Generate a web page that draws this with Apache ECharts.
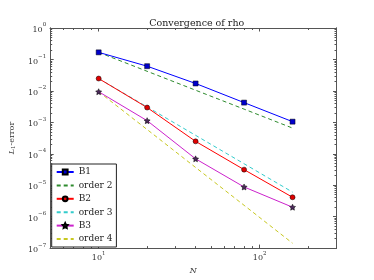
<!DOCTYPE html>
<html><head><meta charset="utf-8">
<script src="https://cdn.jsdelivr.net/npm/echarts@6/dist/echarts.min.js"></script>
<style>html,body{margin:0;padding:0;background:#fff}#c{width:374px;height:280px}</style>
</head><body><div id="c"></div>
<script>
const N = [10, 20, 40, 80, 160];
const B1 = [0.168, 0.061, 0.0172, 0.00424, 0.00105];
const order2 = [0.168, 0.042, 0.0105, 0.00263, 0.000656];
const B2 = [0.0247, 0.00295, 0.000248, 3.13e-5, 4.14e-6];
const order3 = [0.0247, 0.00309, 0.000386, 4.82e-5, 6.03e-6];
const B3 = [0.0094, 0.00113, 6.9e-5, 8.8e-6, 2.0e-6];
const order4 = [0.0094, 5.9e-4, 3.67e-5, 2.3e-6, 1.43e-7];
const xMajor = [10, 100];
const xMinor = [6, 7, 8, 9, 20, 30, 40, 50, 60, 70, 80, 90, 200, 300];
const yMajor = [1e-7, 1e-6, 1e-5, 1e-4, 1e-3, 1e-2, 1e-1, 1];
const yMinor = [];
for (let e = -7; e < 0; e++) for (let m = 2; m <= 9; m++) yMinor.push(+(m * Math.pow(10, e)).toPrecision(3));

const FONT = 'DejaVu Serif';
const STAR = 'path://M0,-10L2.9,-4L9.5,-3.1L4.8,1.5L5.9,8.1L0,5L-5.9,8.1L-4.8,1.5L-9.5,-3.1L-2.9,-4Z';
const pair = a => N.map((n, i) => [n, a[i]]);
const supFmt = v => { const e = Math.round(Math.log10(v)); return '{b|10}{s|' + (e < 0 ? '\u2212' + (-e) : e) + '}'; };
const rich = { b: { fontFamily: FONT, fontSize: 8, color: '#333', padding: [4, 0, 0, 0] }, s: { fontFamily: FONT, fontSize: 5.5, color: '#333', verticalAlign: 'top', padding: [0, 0, 3, 0] } };
const AXC = '#555';
function xAx(pos, major, show) {
  return { type: 'log', logBase: 10, min: 5, max: 300, position: pos,
    axisLine: { show: true, lineStyle: { color: AXC, width: 1 } },
    axisTick: { show: true, inside: true, length: major ? 3.5 : 2, customValues: major ? xMajor : xMinor, lineStyle: { color: AXC } },
    axisLabel: { show: show, customValues: xMajor, formatter: supFmt, rich: rich, margin: 2 },
    splitLine: { show: false }, minorTick: { show: false },
    name: show ? 'N' : '', nameLocation: 'middle', nameGap: 16,
    nameTextStyle: { fontFamily: FONT, fontStyle: 'italic', fontSize: 8, color: '#333' } };
}
function yAx(pos, major, show) {
  return { type: 'log', logBase: 10, min: 1e-7, max: 1, position: pos,
    axisLine: { show: true, lineStyle: { color: AXC, width: 1 } },
    axisTick: { show: true, inside: true, length: major ? 3.5 : 2, customValues: major ? yMajor : yMinor, lineStyle: { color: AXC } },
    axisLabel: { show: show, customValues: yMajor, formatter: supFmt, rich: rich, margin: 4 },
    splitLine: { show: false }, minorTick: { show: false },
    name: show ? '{i|L}{u|1}{n|-error}' : '', nameLocation: 'middle', nameGap: 27, nameRotate: 90,
    nameTextStyle: { rich: { i: { fontFamily: FONT, fontStyle: 'italic', fontSize: 8, color: '#333' }, u: { fontFamily: FONT, fontSize: 5.5, color: '#333', verticalAlign: 'bottom', padding: [4, 0, 0, 0] }, n: { fontFamily: FONT, fontSize: 8, color: '#333' } } } };
}
const line = (name, data, color, dashed, symbol, symColor) => ({
  name, type: 'line', data: pair(data), xAxisIndex: 0, yAxisIndex: 0,
  symbol: symbol || 'circle', symbolSize: symbol === STAR ? 6 : 5, showSymbol: !!symbol,
  itemStyle: symbol ? { color: symColor || color, borderColor: '#000', borderWidth: 0.5 }
                    : { color: 'rgba(0,0,0,0)', borderColor: 'rgba(0,0,0,0)', borderWidth: 0 },
  lineStyle: { color, width: 1, type: dashed ? [4, 3] : 'solid' },
  animation: false, z: dashed ? 2 : 3
});
const chart = echarts.init(document.getElementById('c'), null, { renderer: 'canvas' });
chart.setOption({
  animation: false,
  backgroundColor: '#fff',
  title: { text: 'Convergence of rho', left: 191.7, textAlign: 'center', top: 14, textStyle: { fontFamily: FONT, fontSize: 9.5, fontWeight: 'normal', color: '#222' } },
  grid: { left: 46.7, right: 37.5, top: 28, bottom: 28.5 },
  xAxis: [xAx('bottom', true, true), xAx('bottom', false, false), xAx('top', true, false), xAx('top', false, false)],
  yAxis: [yAx('left', true, true), yAx('left', false, false), yAx('right', true, false), yAx('right', false, false)],
  legend: {
    orient: 'vertical', left: 51.7, top: 164, padding: [3, 4, 3, 4], itemGap: 3.4, itemWidth: 17, itemHeight: 6,
    borderColor: '#222', borderWidth: 1, backgroundColor: '#fff',
    textStyle: { fontFamily: FONT, fontSize: 9, color: '#222', lineHeight: 10 },
    data: ['B1', 'order 2', 'B2', 'order 3', 'B3', 'order 4']
  },
  series: [
    line('B1', B1, '#0000ff', false, 'rect', '#0000cc'),
    line('order 2', order2, '#2e8b2e', true),
    line('B2', B2, '#ff0000', false, 'circle', '#e00000'),
    line('order 3', order3, '#33cccc', true),
    line('B3', B3, '#cc22cc', false, STAR, '#4b2a5a'),
    line('order 4', order4, '#c8c820', true)
  ]
});
</script></body></html>
